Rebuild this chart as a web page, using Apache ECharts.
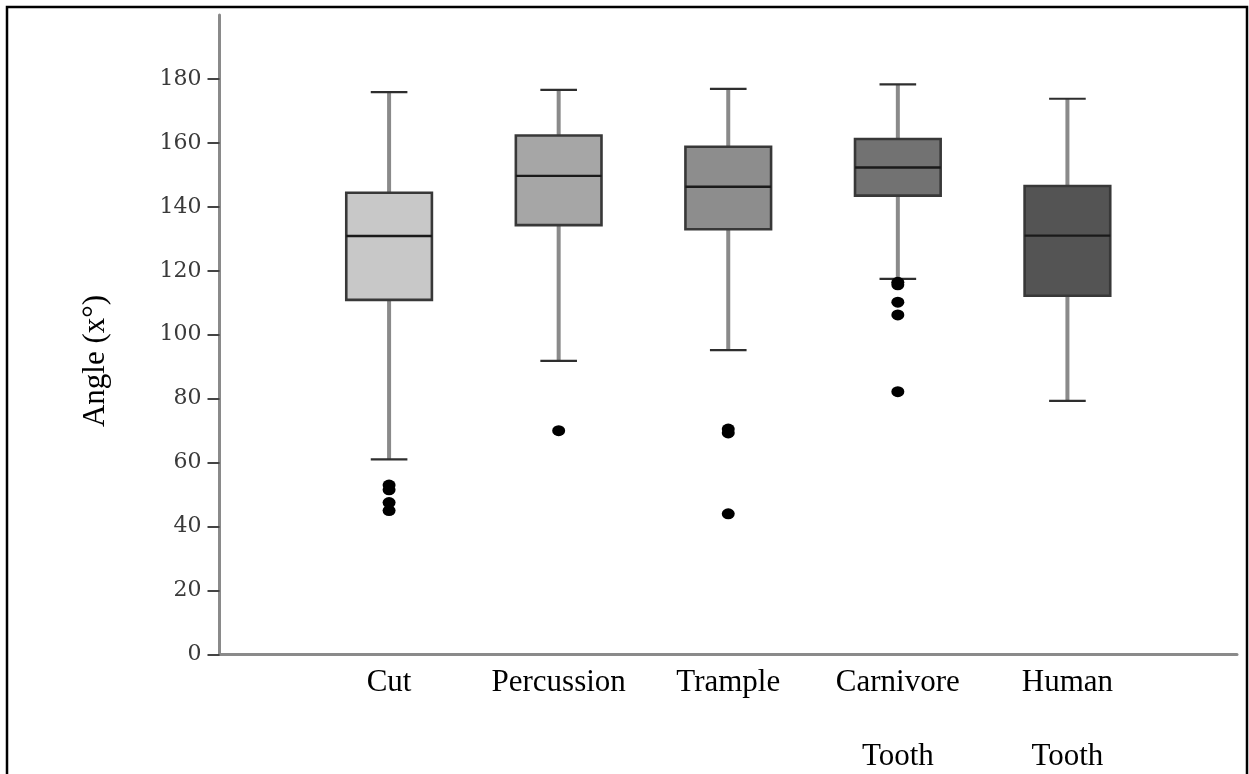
<!DOCTYPE html>
<html>
<head>
<meta charset="utf-8">
<script src="https://cdn.jsdelivr.net/npm/echarts@6/dist/echarts.min.js"></script>
<style>
  html, body { margin: 0; padding: 0; background: #fff; }
  #chart { width: 1249px; height: 774px; }
</style>
</head>
<body>
<div id="chart"></div>
<script>
// Angle measurements per mark type (degrees)
const categories  = ['Cut', 'Percussion', 'Trample', 'Carnivore\n\nTooth', 'Human\n\nTooth'];
const whiskerLow  = [61.0, 91.8, 95.2, 117.5, 79.3];
const q1          = [110.9, 134.3, 133.0, 143.5, 112.2];
const median      = [130.9, 149.7, 146.3, 152.3, 131.0];
const q3          = [144.4, 162.3, 158.8, 161.2, 146.5];
const whiskerHigh = [175.9, 176.6, 176.9, 178.3, 173.8];
const outliers    = [
  [53.0, 51.5, 47.5, 45.0],
  [70.0],
  [70.5, 69.3, 44.0],
  [116.4, 115.6, 110.2, 106.2, 82.2],
  []
];
const yTicks  = [0, 20, 40, 60, 80, 100, 120, 140, 160, 180];
const boxFill = ['#c8c8c8', '#a6a6a6', '#8d8d8d', '#727272', '#545454'];

// padded category list so boxes sit at the 1..5 positions of a 0..6 axis
const axisCats = [''].concat(categories, [' ']);

const boxData = categories.map((c, i) => [c, whiskerLow[i], q1[i], median[i], q3[i], whiskerHigh[i]]);
const outlierData = [];
categories.forEach((c, i) => outliers[i].forEach(v => outlierData.push([c, v])));

const chart = echarts.init(document.getElementById('chart'), null, { renderer: 'canvas' });

function renderBox(params, api) {
  const x = api.value(0);
  const lo = api.coord([x, api.value(1)]);
  const b1 = api.coord([x, api.value(2)]);
  const md = api.coord([x, api.value(3)]);
  const b3 = api.coord([x, api.value(4)]);
  const hi = api.coord([x, api.value(5)]);
  const band = api.size([1, 0])[0];
  const bw = band * 0.505;
  const cw = band * 0.216;
  const cx = lo[0];
  const stem = { stroke: '#8a8a8a', lineWidth: 4 };
  const dark = { stroke: '#2e2e2e', lineWidth: 2.2 };
  return {
    type: 'group',
    children: [
      { type: 'line', shape: { x1: cx, y1: lo[1], x2: cx, y2: b1[1] }, style: stem },
      { type: 'line', shape: { x1: cx, y1: b3[1], x2: cx, y2: hi[1] }, style: stem },
      { type: 'line', shape: { x1: cx - cw / 2, y1: lo[1], x2: cx + cw / 2, y2: lo[1] }, style: dark },
      { type: 'line', shape: { x1: cx - cw / 2, y1: hi[1], x2: cx + cw / 2, y2: hi[1] }, style: dark },
      { type: 'rect', shape: { x: cx - bw / 2, y: b3[1], width: bw, height: b1[1] - b3[1] },
        style: { fill: boxFill[params.dataIndex], stroke: '#383838', lineWidth: 2.6 } },
      { type: 'line', shape: { x1: cx - bw / 2, y1: md[1], x2: cx + bw / 2, y2: md[1] },
        style: { stroke: '#1a1a1a', lineWidth: 2.4 } }
    ]
  };
}

chart.setOption({
  animation: false,
  backgroundColor: '#fff',
  grid: { left: 219.5, right: 12, top: 15, bottom: 119.5, outerBoundsMode: 'none' },
  xAxis: {
    type: 'category',
    data: axisCats,
    boundaryGap: false,
    axisLine: { show: true, lineStyle: { color: '#8a8a8a', width: 3 } },
    axisTick: { show: false },
    axisLabel: {
      interval: 0, margin: 10,
      fontFamily: 'Liberation Serif', fontSize: 31, color: '#000', lineHeight: 37
    },
    splitLine: { show: false }
  },
  yAxis: {
    type: 'value',
    min: 0, max: 200, interval: 20,
    axisLine: { show: true, lineStyle: { color: '#8a8a8a', width: 3 } },
    axisTick: { show: true, length: 12, customValues: yTicks, lineStyle: { color: '#444', width: 2 } },
    axisLabel: {
      customValues: yTicks, margin: 18,
      fontFamily: 'DejaVu Serif', fontSize: 22, color: '#3a3a3a'
    },
    splitLine: { show: false }
  },
  series: [
    {
      type: 'custom',
      renderItem: renderBox,
      encode: { x: 0, y: [1, 2, 3, 4, 5] },
      data: boxData,
      clip: false,
      z: 2
    },
    {
      type: 'scatter',
      data: outlierData,
      symbol: 'circle',
      symbolSize: [13, 11],
      itemStyle: { color: '#000', opacity: 1 },
      z: 3
    }
  ],
  graphic: [
    {
      type: 'rect',
      shape: { x: 7, y: 7, width: 1240, height: 820 },
      style: { fill: 'none', stroke: '#000', lineWidth: 2.5 },
      silent: true
    },
    {
      type: 'text',
      x: 96, y: 361,
      rotation: Math.PI / 2,
      style: {
        text: 'Angle (x°)',
        fontFamily: 'Liberation Serif', fontSize: 31, fill: '#000',
        align: 'center', verticalAlign: 'middle'
      }
    }
  ]
});
</script>
</body>
</html>
